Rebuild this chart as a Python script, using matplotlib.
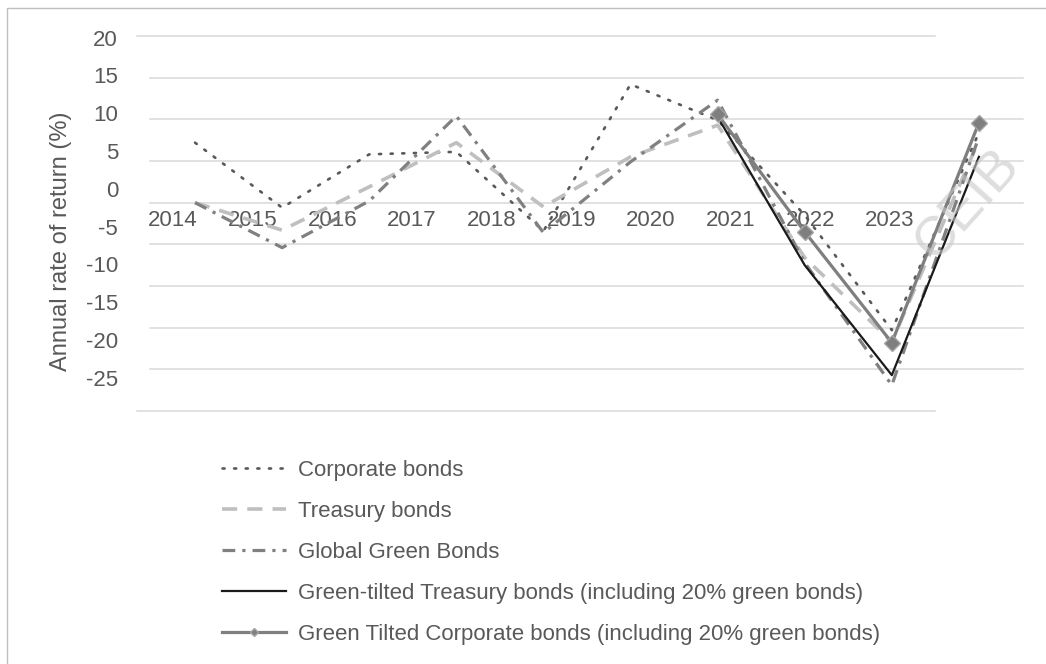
import numpy as np
import matplotlib
matplotlib.use("Agg")
import matplotlib.pyplot as plt
from matplotlib.patches import Rectangle

# data (annual rate of return, %)
years = ["2014", "2015", "2016", "2017", "2018", "2019", "2020", "2021", "2022", "2023"]
corporate = [7.2, -0.6, 5.8, 6.1, -3.4, 14.2, 9.9, -1.5, -15.3, 8.4]
treasury = [0.0, -3.3, 1.9, 7.2, -0.5, 5.5, 9.3, -6.6, -16.7, 7.5]
global_green = [0.0, -5.4, 0.2, 10.4, -3.6, 4.9, 12.3, -7.2, -21.9, 7.9]
green_treasury = [np.nan] * 6 + [10.3, -7.5, -20.7, 5.5]
green_corporate = [np.nan] * 6 + [10.6, -3.5, -16.8, 9.6]
y_ticks = [20, 15, 10, 5, 0, -5, -10, -15, -20, -25]

txt = "#595959"
plain = ["Liberation Sans", "DejaVu Sans"]

W, H = 1046, 664
fig = plt.figure(figsize=(W / 100, H / 100), dpi=100)

# outer frame, cut by the right and bottom edge
fig.patches.append(Rectangle((7 / W, -0.1), 1.2, 1 - 8 / H + 0.1, transform=fig.transFigure,
                             fill=False, edgecolor="#BFBFBF", lw=1))

ax = fig.add_axes([150 / W, 1 - 411 / H, 873 / W, 375 / H])
x = np.arange(len(years))
ax.set_xlim(-0.517, 9.506)
ax.set_ylim(-25, 20)
for s in ax.spines.values():
    s.set_visible(False)

# gridlines (outermost ones are shorter in the original)
for v in y_ticks:
    if v in (20, -25):
        ax.axhline(v, xmin=-0.015, xmax=0.899, color="#D9D9D9", lw=1.1, clip_on=False, zorder=0)
    else:
        ax.axhline(v, color="#D9D9D9", lw=1.1, clip_on=False, zorder=0)

ax.plot(x, corporate, color="#595959", lw=1.9, ls=(0, (0.8, 3.6)), dash_capstyle="round",
        label="Corporate bonds", clip_on=False)
ax.plot(x, treasury, color="#BFBFBF", lw=2.6, ls=(0, (4.2, 2.8)), label="Treasury bonds", clip_on=False)
ax.plot(x, global_green, color="#808080", lw=2.3, ls=(0, (4, 2.2, 1, 2.2)),
        label="Global Green Bonds", clip_on=False)
ax.plot(x, green_treasury, color="#1A1A1A", lw=1.6,
        label="Green-tilted Treasury bonds (including 20% green bonds)", clip_on=False)
ax.plot(x, green_corporate, color="#7F7F7F", lw=2.3, marker="D", ms=8, mec="#A6A6A6", mew=1,
        label="Green Tilted Corporate bonds (including 20% green bonds)", clip_on=False)

# category labels sit just under the zero line, slightly compressed as in the original
ax.spines["bottom"].set_position(("data", 0))
ax.set_xticks(-0.2526 + 0.9147 * x)
ax.set_xticklabels(years)
ax.tick_params(axis="x", length=0, pad=5, labelsize=16, labelcolor=txt)

# value labels (also compressed relative to the gridlines)
ax.set_yticks([20 - (1.5 + 37.83 * k) / 8.333 for k in range(len(y_ticks))])
ax.set_yticklabels([str(v) for v in y_ticks])
ax.tick_params(axis="y", length=0, pad=23, labelsize=16, labelcolor=txt)
for t in ax.get_xticklabels() + ax.get_yticklabels():
    t.set_family(plain)

fig.text(61 / W, 1 - 241 / H, "Annual rate of return (%)", rotation=90, ha="center", va="center",
         fontsize=17, color=txt, family=plain)

leg = ax.legend(loc="upper left", bbox_to_anchor=(222 / W, 1 - 460 / H), bbox_transform=fig.transFigure,
                frameon=False, fontsize=16, handlelength=2.9, handletextpad=0.5, labelspacing=0.9,
                markerscale=0.55, borderaxespad=0, borderpad=0)
for t in leg.get_texts():
    t.set_color(txt)
    t.set_family(plain)

# watermark
fig.text(968 / W, 1 - 205 / H, "CEIB", rotation=48, ha="center", va="center", fontsize=40,
         color="#C8C8C8", alpha=0.6, family=plain)

plt.savefig("out.png", dpi=100)
